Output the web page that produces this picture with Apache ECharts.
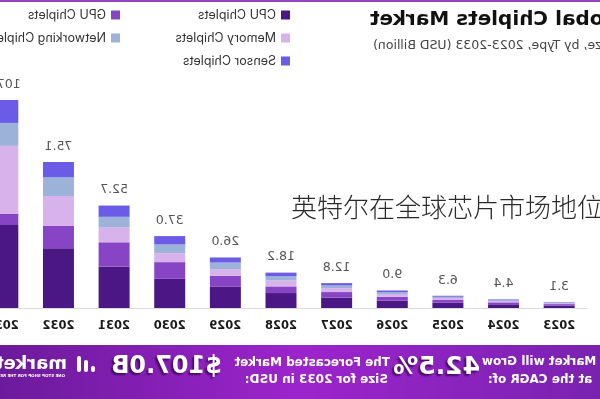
<!DOCTYPE html>
<html>
<head>
<meta charset="utf-8">
<script src="https://cdn.jsdelivr.net/npm/echarts@6/dist/echarts.min.js"></script>
<style>
  html, body { margin: 0; padding: 0; background: #fff; }
  #wrap { position: relative; width: 600px; height: 399px; overflow: hidden; }
  #chart { width: 600px; height: 399px; transform: scaleX(-1); }
  #overlay {
    position: absolute; left: 291px; top: 193px;
    font-family: "Noto Sans CJK SC", sans-serif; font-size: 26px; line-height: 26px;
    font-weight: 300; color: #2a2a2a; white-space: nowrap;
  }
</style>
</head>
<body>
<div id="wrap">
  <div id="chart"></div>
  <div id="overlay">英特尔在全球芯片市场地位</div>
</div>
<script>
const years = ['2023', '2024', '2025', '2026', '2027', '2028', '2029', '2030', '2031', '2032', '2033'];
const totals = [3.1, 4.4, 6.3, 9.0, 12.8, 18.2, 26.0, 37.0, 52.7, 75.1, 107.0];
const cpu = [1.3, 1.9, 2.7, 3.8, 5.4, 7.7, 10.9, 15.0, 21.4, 30.8, 42.7];
const gpu = [0.7, 1.0, 1.4, 2.0, 2.8, 3.4, 5.7, 8.6, 12.4, 11.4, 5.7];
const memory = [0.5, 0.7, 1.0, 1.4, 2.0, 3.1, 3.4, 4.6, 7.8, 15.4, 35.0];
const networking = [0.4, 0.5, 0.7, 1.0, 1.4, 2.1, 3.4, 4.5, 5.3, 9.6, 11.8];
const sensor = [0.2, 0.3, 0.5, 0.8, 1.2, 1.9, 2.6, 4.3, 5.8, 7.9, 11.8];

const names = ['CPU Chiplets', 'GPU Chiplets', 'Memory Chiplets', 'Networking Chiplets', 'Sensor Chiplets'];
const colors = ['#4a1784', '#8744c4', '#d8b2ea', '#9cb2d8', '#6b5ce8'];
const values = [cpu, gpu, memory, networking, sensor];

const chart = echarts.init(document.getElementById('chart'), null, {renderer: 'canvas'});

const white = '#fff';
const banner = [
  {type: 'rect', shape: {x: 0, y: 0, width: 600, height: 2}, style: {fill: '#9444bc'}},
  {
    type: 'rect', shape: {x: 0, y: 345, width: 600, height: 54},
    style: {
      fill: new echarts.graphic.LinearGradient(0, 0, 1, 0, [
        {offset: 0, color: '#7a22b0'},
        {offset: 0.5, color: '#9c24cc'},
        {offset: 1, color: '#6c1a9c'}
      ])
    }
  },
  {type: 'text', x: 118, y: 362, style: {text: 'The Market will Grow', fill: white, font: 'bold 12px "DejaVu Sans"', align: 'right', verticalAlign: 'middle'}},
  {type: 'text', x: 112, y: 380, style: {text: 'at the CAGR of:', fill: white, font: 'bold 12px "DejaVu Sans"', align: 'right', verticalAlign: 'middle'}},
  {type: 'text', x: 120, y: 367, style: {text: '42.5%', fill: white, font: 'bold 25px "DejaVu Sans"', verticalAlign: 'middle', textShadowColor: 'rgba(40,0,60,0.7)', textShadowOffsetX: 2, textShadowOffsetY: 2, textShadowBlur: 2}},
  {type: 'text', x: 210, y: 363, style: {text: 'The Forecasted Market', fill: white, font: 'bold 12px "DejaVu Sans"', verticalAlign: 'middle'}},
  {type: 'text', x: 212, y: 380, style: {text: 'Size for 2033 in USD:', fill: white, font: 'bold 12px "DejaVu Sans"', verticalAlign: 'middle'}},
  {type: 'text', x: 378, y: 367, style: {text: '$107.0B', fill: white, font: 'bold 24px "DejaVu Sans"', verticalAlign: 'middle', textShadowColor: 'rgba(40,0,60,0.7)', textShadowOffsetX: 2, textShadowOffsetY: 2, textShadowBlur: 2}},
  // logo bars
  {type: 'rect', shape: {x: 505, y: 366, width: 4, height: 6, r: 2}, style: {fill: white}},
  {type: 'rect', shape: {x: 512, y: 360, width: 4, height: 12, r: 2}, style: {fill: white}},
  {type: 'rect', shape: {x: 519, y: 356, width: 4, height: 16, r: 2}, style: {fill: white}},
  {type: 'text', x: 533, y: 364, style: {text: 'market.us', fill: white, font: 'bold 18px "DejaVu Sans"', verticalAlign: 'middle'}},
  {type: 'text', x: 535, y: 376, style: {text: 'ONE STOP SHOP FOR THE REPORTS', fill: white, font: 'bold 4px "DejaVu Sans"', verticalAlign: 'middle'}},
  // title
  {type: 'text', x: 230, y: 20, style: {text: 'Global Chiplets Market', fill: '#111', font: 'bold 20px "DejaVu Sans"', align: 'right', verticalAlign: 'middle'}},
  {type: 'text', x: 227, y: 46, style: {text: 'Market Size, by Type, 2023-2033 (USD Billion)', fill: '#444', font: '12.5px "DejaVu Sans"', align: 'right', verticalAlign: 'middle'}}
];

const series = names.map((name, i) => ({
  name: name,
  type: 'bar',
  stack: 'total',
  barWidth: 31,
  itemStyle: {color: colors[i]},
  data: values[i],
  label: i === names.length - 1 ? {
    show: true,
    position: 'top',
    distance: 9,
    color: '#555',
    fontSize: 12.5,
    fontFamily: 'DejaVu Sans',
    formatter: p => totals[p.dataIndex].toFixed(1)
  } : {show: false}
}));

chart.setOption({
  animation: false,
  backgroundColor: '#fff',
  graphic: banner,
  legend: [
    {
      orient: 'vertical', left: 310, top: 8.5, padding: 0, itemGap: 10,
      itemWidth: 9, itemHeight: 9, icon: 'rect',
      data: [names[0], names[2], names[4]],
      textStyle: {fontSize: 12.5, color: '#333', fontFamily: 'Inter', lineHeight: 13}
    },
    {
      orient: 'vertical', left: 480, top: 8.5, padding: 0, itemGap: 10,
      itemWidth: 9, itemHeight: 9, icon: 'rect',
      data: [names[1], names[3]],
      textStyle: {fontSize: 12.5, color: '#333', fontFamily: 'Inter', lineHeight: 13}
    }
  ],
  grid: {left: 13, width: 612, top: 100, bottom: 91, containLabel: false, outerBoundsMode: 'none'},
  xAxis: {
    type: 'category',
    data: years,
    axisLine: {lineStyle: {color: '#dcdcdc'}},
    axisTick: {show: false},
    axisLabel: {margin: 12, color: '#1a1a1a', fontWeight: 'bold', fontSize: 11.5, fontFamily: 'DejaVu Sans'}
  },
  yAxis: {type: 'value', min: 0, max: 107, show: false},
  series: series
});
</script>
</body>
</html>
